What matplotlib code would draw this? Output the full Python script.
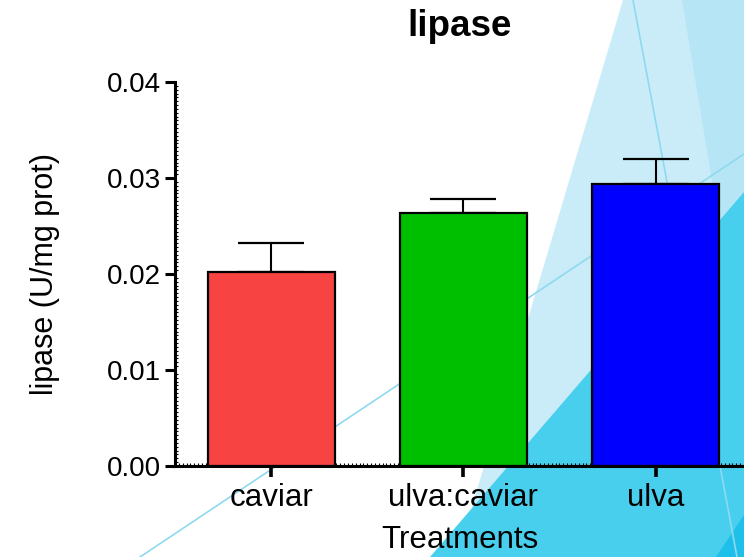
import matplotlib.pyplot as plt
from matplotlib.patches import Polygon
from matplotlib.ticker import MultipleLocator
import numpy as np

plt.rcParams['font.family'] = ['Liberation Sans', 'DejaVu Sans']

# lipase activity per treatment, mean and SEM
treatments = ['caviar', 'ulva:caviar', 'ulva']
lipase = [0.0202, 0.02635, 0.02937]
sem = [0.0030, 0.00145, 0.0026]
colors = ['#f84343', '#00bf00', '#0000ff']

W, H = 744, 557
fig = plt.figure(figsize=(W / 100, H / 100), dpi=100)

# slide background shapes (pixel coords, y down)
bg = fig.add_axes([0, 0, 1, 1], zorder=0)
bg.set_xlim(0, W)
bg.set_ylim(H, 0)
bg.axis('off')
light = [(623, 0), (744, 0), (744, 557), (457, 557)]
lighter = [(682, 0), (744, 0), (744, 374)]
cyan = [(744, 192), (744, 557), (430, 557)]
deep = [(716, 557), (744, 557), (744, 515)]
bg.add_patch(Polygon(light, closed=True, fc='#c9ecf8', ec='none'))
bg.add_patch(Polygon(lighter, closed=True, fc='#b6e5f6', ec='none'))
bg.plot([633, 737], [0, 557], color='#8fd9f0', lw=1.2)
bg.add_patch(Polygon(cyan, closed=True, fc='#48cfee', ec='none'))
bg.add_patch(Polygon(deep, closed=True, fc='#1ec0ea', ec='none'))
bg.plot([140, 744], [557, 154], color='#8fd9f0', lw=1.2)

ax = fig.add_axes([175 / W, (H - 466) / H, (W - 175) / W, (466 - 82) / H], zorder=1)
ax.set_facecolor('none')

x = np.arange(len(treatments))
ax.bar(x, lipase, width=0.66, color=colors, edgecolor='black', linewidth=1.6, zorder=2)
ax.errorbar(x, lipase, yerr=[np.zeros(len(sem)), sem], fmt='none', ecolor='black',
            elinewidth=1.5, capsize=24, capthick=1.6, zorder=1)

ax.set_xlim(-0.5, 2.46)
ax.set_ylim(0, 0.04)
ax.set_yticks([0, 0.01, 0.02, 0.03, 0.04])
ax.set_yticklabels(['0.00', '0.01', '0.02', '0.03', '0.04'])
ax.set_xticks(x)
ax.set_xticklabels(treatments)
ax.yaxis.set_minor_locator(MultipleLocator(0.0004))
ax.xaxis.set_minor_locator(MultipleLocator(0.02))

for s in ['top', 'right']:
    ax.spines[s].set_visible(False)
for s in ['left', 'bottom']:
    ax.spines[s].set_linewidth(2.2)

ax.tick_params(axis='y', which='major', direction='out', length=7, width=2.2,
               labelsize=20, pad=3)
ax.tick_params(axis='x', which='major', direction='out', length=8, width=2.6,
               labelsize=22.5, pad=4)
ax.tick_params(axis='both', which='minor', direction='in', length=2.5, width=0.8)

ax.set_title('lipase', fontsize=26.5, fontweight='bold', pad=33)
ax.set_xlabel('Treatments', fontsize=22.5, labelpad=9)
ax.set_ylabel('lipase (U/mg prot)', fontsize=22, labelpad=34)

fig.savefig('out.png', dpi=100)
